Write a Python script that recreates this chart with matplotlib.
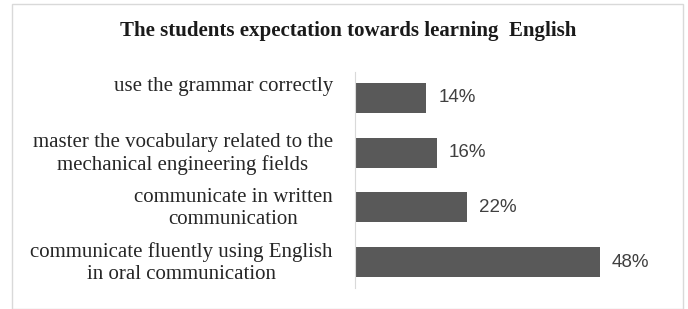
import matplotlib.pyplot as plt
from matplotlib.patches import Rectangle
from matplotlib.transforms import ScaledTranslation

# data (bottom to top)
labels = ["communicate fluently using English\nin oral communication",
          "communicate in written\ncommunication",
          "master the vocabulary related to the\nmechanical engineering fields",
          "use the grammar correctly"]
values = [48, 22, 16, 14]

W, H = 688, 309
fig = plt.figure(figsize=(W / 100, H / 100), dpi=100)

# chart border
fig.patches.append(Rectangle((12 / W, 0), 671 / W, 305 / H, transform=fig.transFigure,
                             fill=False, edgecolor="#d9d9d9", linewidth=1))

ax = fig.add_axes([355 / W, 1 - 288 / H, 306 / W, 216 / H])
pos = list(range(len(values)))
ax.barh(pos, values, height=0.55, color="#595959")
ax.set_xlim(0, 60)
ax.set_ylim(-0.475, len(values) - 0.525)

for p, v in zip(pos, values):
    ax.text(v + 2.3, p, f"{v}%", va="center", ha="left", fontsize=13.5,
            color="#404040", family="Liberation Sans")

ax.set_yticks(pos)
ax.set_yticklabels(labels, family="Liberation Serif", fontsize=15,
                   color="#262626", multialignment="center")
ax.tick_params(axis="y", length=0, pad=16)
# labels sit a bit above the bar centre; the single-line one even more
for lbl in ax.get_yticklabels():
    dy = 2 if "\n" in lbl.get_text() else 10
    lbl.set_transform(lbl.get_transform() + ScaledTranslation(0, dy / 72, fig.dpi_scale_trans))
ax.set_xticks([])
for s in ["top", "right", "bottom"]:
    ax.spines[s].set_visible(False)
ax.spines["left"].set_color("#d9d9d9")

fig.text(348 / W, 1 - 31 / H, "The students expectation towards learning  English",
         ha="center", va="center", fontsize=15, fontweight="bold",
         family="Liberation Serif", color="#1a1a1a")

fig.savefig("out.png", dpi=100)
